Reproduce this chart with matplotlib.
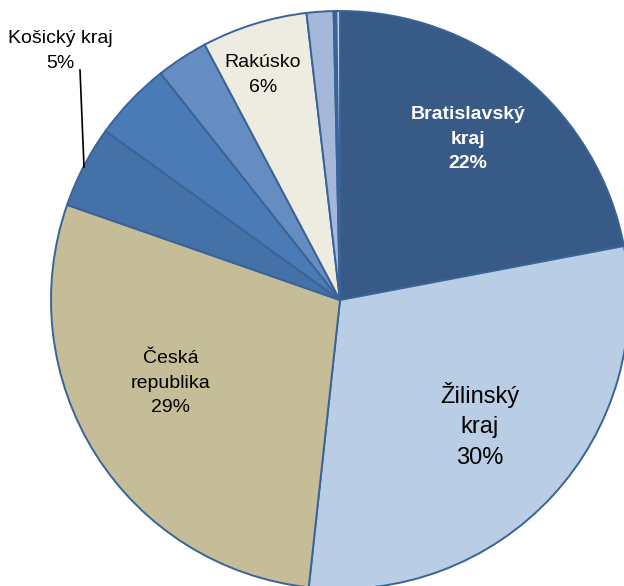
import matplotlib
matplotlib.use("Agg")
import matplotlib.pyplot as plt

plt.rcParams['font.family'] = ['Liberation Sans', 'DejaVu Sans']

# shares of the regions (percent), clockwise from 12 o'clock
regions = ['Bratislavský kraj', 'Žilinský kraj', 'Česká republika', 'Košický kraj',
           'ostatné 1', 'ostatné 2', 'Rakúsko', 'ostatné 3', 'ostatné 4', 'ostatné 5']
shares = [22.0, 29.7, 28.6, 4.6, 4.4, 2.9, 5.9, 1.5, 0.15, 0.2]
colors = ['#375A86', '#B9CDE5', '#C4BD97', '#4471A7', '#4A7BB6', '#658DC2',
          '#EEECE1', '#A5B8D9', '#3E6598', '#C6D4EA']

W, H = 624, 586
fig = plt.figure(figsize=(W / 100, H / 100), dpi=100)
ax = fig.add_axes([0, 0, 1, 1])

ax.pie(shares, colors=colors, startangle=90, counterclock=False,
       center=(340, H - 300), radius=289, frame=True,
       wedgeprops=dict(edgecolor='#3A6497', linewidth=1.4))

ax.set_xlim(0, W)
ax.set_ylim(0, H)
ax.set_aspect('equal')
ax.axis('off')

# popisky
ax.text(468, H - 139, 'Bratislavský\nkraj\n22%', ha='center', va='center',
        fontsize=14, fontweight='bold', color='white', linespacing=1.6)
ax.text(480, H - 425, 'Žilinský\nkraj\n30%', ha='center', va='center',
        fontsize=17, color='black', linespacing=1.5)
ax.text(171, H - 383, 'Česká\nrepublika\n29%', ha='center', va='center',
        fontsize=14, color='black', linespacing=1.6)
ax.text(263, H - 75, 'Rakúsko\n6%', ha='center', va='center',
        fontsize=14, color='black', linespacing=1.6)
ax.text(60, H - 51, 'Košický kraj\n5%', ha='center', va='center',
        fontsize=14, color='black', linespacing=1.6)
ax.plot([80, 84], [H - 70, H - 167], color='black', linewidth=1.2)

fig.savefig('out.png', dpi=100)
